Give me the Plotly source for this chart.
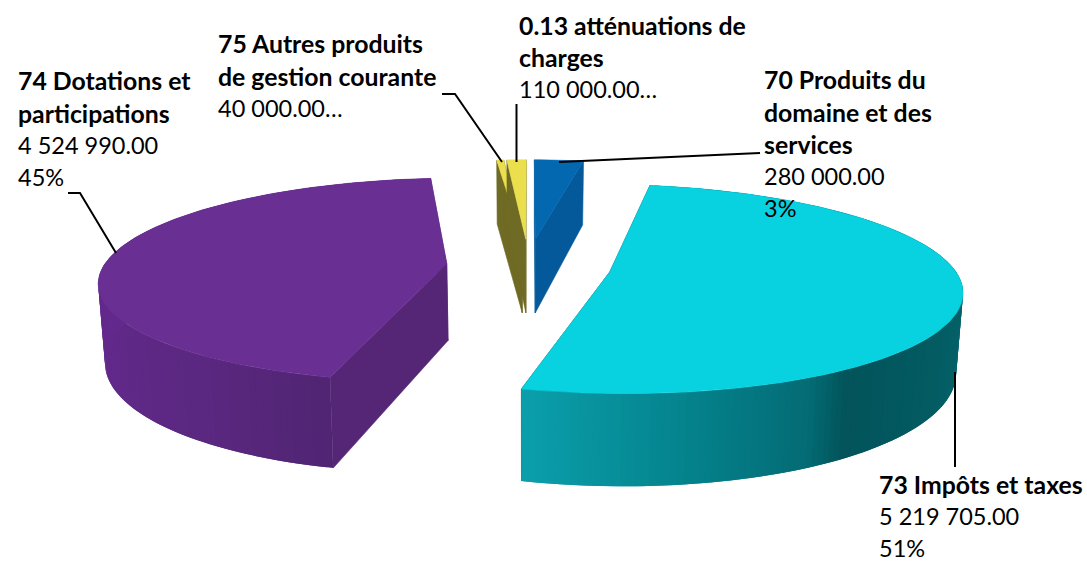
import numpy as np
import plotly.graph_objects as go

# ---- data ----
names = ["70 Produits du domaine et des services", "73 Impôts et taxes",
         "74 Dotations et participations", "75 Autres produits de gestion courante",
         "0.13 atténuations de charges"]
values = [280000.00, 5219705.00, 4524990.00, 40000.00, 110000.00]
top_colors = ["#0468B0", "#08D2E0", "#6A2F92", "#EBDF4E", "#EBDF4E"]
side_colors = ["#03599A", "#03545B", "#552676", "#6F6A24", "#6F6A24"]

# outer wall shading stops (angle in degrees clockwise from 12 o'clock, colour)
wall_stops = {
    0: [(0, "#03599A"), (360, "#03599A")],
    1: [(85, "#06666E"), (115, "#055F66"), (146, "#03545B"), (152, "#046B74"), (172, "#05848E"), (195, "#0BA0AD")],
    2: [(194, "#512573"), (215, "#5A2880"), (245, "#622A8A"), (270, "#64298C"), (360, "#64298C")],
    3: [(0, "#6F6A24"), (360, "#6F6A24")],
    4: [(0, "#6F6A24"), (360, "#6F6A24")],
}

label_lines = [
    (762, [(79, "70 Produits du", True), (112, "domaine et des", True), (144, "services", True),
           (176, "280 000.00", False), (208, "3%", False)]),
    (877, [(484, "73 Impôts et taxes", True), (516, "5 219 705.00", False), (548, "51%", False)]),
    (16, [(80, "74 Dotations et", True), (113, "participations", True),
          (145, "4 524 990.00", False), (177, "45%", False)]),
    (216, [(43, "75 Autres produits", True), (76, "de gestion courante", True),
           (108, "40 000.00…", False)]),
    (517, [(25, "0.13 atténuations de", True), (57, "charges", True), (89, "110 000.00…", False)]),
]

leaders = [
    ([559, 760], [162, 153]),
    ([955, 955], [372, 467]),
    ([68, 80, 116], [193, 193, 253]),
    ([442, 455, 502], [94, 94, 162]),
    ([516.5, 516.5], [104, 162]),
]

# ---- projection of the exploded pie ----
X0, Y0, A, B, K, DEPTH, EXPLODE_U, EXPLODE_V, TAPER = 528.5, 266, 343, 100, 0.16, 77, 0.24, 0.28, 0.016


def project(u, v, z=0.0):
    w = 1 + K * v
    return X0 + A * u / w * (1 - TAPER * z), Y0 - B * v / w + z * DEPTH / w


def hex2rgb(c):
    return np.array([int(c[i:i + 2], 16) for i in (1, 3, 5)], dtype=float)


def shade(stops, ang):
    a = [s[0] for s in stops]
    rgb = np.array([hex2rgb(s[1]) for s in stops])
    return "rgb(%d,%d,%d)" % tuple(np.interp(ang, a, rgb[:, i]) for i in range(3))


fig = go.Figure()


def poly(xs, ys, color, lw=0.6):
    fig.add_trace(go.Scatter(x=list(xs), y=list(ys), mode="lines", fill="toself", fillcolor=color,
                             line=dict(color=color, width=lw), hoverinfo="skip", showlegend=False))


fractions = np.array(values) / sum(values)
edges = np.concatenate([[0], np.cumsum(fractions) * 360])

for i in range(len(values)):
    a0, a1 = edges[i], edges[i + 1]
    mid = np.radians((a0 + a1) / 2)
    cu, cv = EXPLODE_U * np.sin(mid), EXPLODE_V * np.cos(mid)
    n = max(2, int((a1 - a0) / 1.0))
    th = np.linspace(a0, a1, n + 1)
    ru = cu + np.sin(np.radians(th))
    rv = cv + np.cos(np.radians(th))

    # radial walls
    for k in (0, -1):
        xa, ya = project(cu, cv, 0)
        xb, yb = project(ru[k], rv[k], 0)
        xc, yc = project(ru[k], rv[k], 1)
        xd, yd = project(cu, cv, 1)
        poly([xa, xb, xc, xd, xa], [ya, yb, yc, yd, ya], side_colors[i])
    # outer wall, band by band; each band runs under the next one so no seam shows
    if a1 - a0 > 20:
        for j in range(n):
            e = min(j + 3, n + 1)
            x1, y1 = project(ru[j:e], rv[j:e], 0)
            x2, y2 = project(ru[j:e], rv[j:e], 1)
            xs = np.concatenate([x1, x2[::-1], x1[:1]])
            ys = np.concatenate([y1, y2[::-1], y1[:1]])
            poly(xs, ys, shade(wall_stops[i], (th[j] + th[j + 1]) / 2), lw=0)
    # top face
    xt, yt = project(np.concatenate([[cu], ru]), np.concatenate([[cv], rv]), 0)
    poly(np.append(xt, xt[0]), np.append(yt, yt[0]), top_colors[i])

for lx, ly in leaders:
    fig.add_trace(go.Scatter(x=lx, y=ly, mode="lines", line=dict(color="#000000", width=2),
                             hoverinfo="skip", showlegend=False))

annotations = []
for x, lines in label_lines:
    for y, text, bold in lines:
        annotations.append(dict(x=x, y=y, xref="x", yref="y", xanchor="left", yanchor="middle",
                                showarrow=False, text=f"<b>{text}</b>" if bold else text,
                                font=dict(family="Lato", size=24.8 if bold else 23.5, color="#000000")))

fig.update_layout(width=1087, height=561, margin=dict(l=0, r=0, t=0, b=0),
                  paper_bgcolor="#FFFFFF", plot_bgcolor="#FFFFFF", showlegend=False,
                  annotations=annotations,
                  xaxis=dict(range=[0, 1087], visible=False, fixedrange=True),
                  yaxis=dict(range=[561, 0], visible=False, fixedrange=True))
fig.write_html("out.html", config={"displayModeBar": False},
               post_script="document.body.style.margin='0';")
